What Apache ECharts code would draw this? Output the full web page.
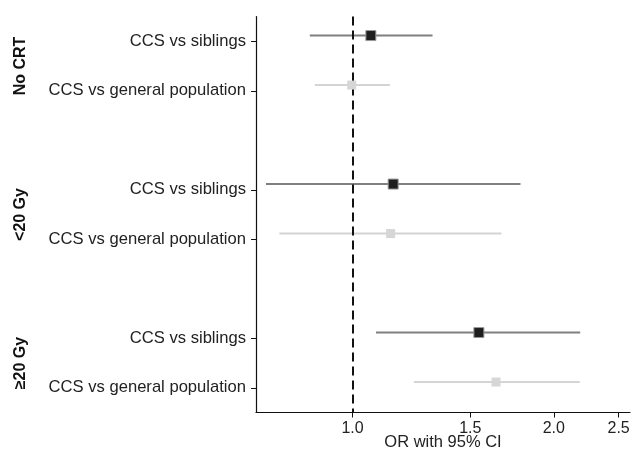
<!DOCTYPE html>
<html>
<head>
<meta charset="utf-8">
<script src="https://cdn.jsdelivr.net/npm/echarts@6/dist/echarts.min.js"></script>
<style>html,body{margin:0;padding:0;background:#fff}#c{width:634px;height:454px}</style>
</head>
<body>
<div id="c"></div>
<script>
// ---- data ----
var groups = ['No CRT', '<20 Gy', '≥20 Gy'];
var rowLabels = ['CCS vs siblings', 'CCS vs general population', '',
                 'CCS vs siblings', 'CCS vs general population', '',
                 'CCS vs siblings', 'CCS vs general population'];
var rowKeys = ['r0', 'r1', 'g1', 'r3', 'r4', 'g2', 'r6', 'r7'];
var siblingsRows = ['r0', 'r3', 'r6'];
var genpopRows = ['r1', 'r4', 'r7'];
var siblingsOR = [1.065, 1.150, 1.545];
var siblingsLow = [0.863, 0.742, 1.084];
var siblingsHigh = [1.317, 1.783, 2.190];
var genpopOR = [0.997, 1.140, 1.639];
var genpopLow = [0.878, 0.777, 1.235];
var genpopHigh = [1.137, 1.670, 2.187];
var xTicks = [1.0, 1.5, 2.0, 2.5];
var groupTickPos = [0.5, 3.5, 6.5];
var refLine = 1.0;

var chart = echarts.init(document.getElementById('c'), null, {renderer: 'canvas'});

function ciData(rows, lo, hi, or) {
  return rows.map(function (r, i) { return [lo[i], hi[i], r, or[i]]; });
}
function ciRender(color) {
  return function (params, api) {
    var y = api.value(2);
    var p1 = api.coord([api.value(0), y]);
    var p2 = api.coord([api.value(1), y]);
    return {
      type: 'line',
      shape: {x1: p1[0], y1: p1[1], x2: p2[0], y2: p2[1]},
      style: {stroke: color, lineWidth: 2}
    };
  };
}

var XMIN = 0.717, XMAX = 2.6;
var font = 'Liberation Sans, Arial, Helvetica, sans-serif';

var option = {
  animation: false,
  grid: [
    {left: 256, right: 4, top: 16.5, height: 396, containLabel: false, outerBoundsMode: 'none'},
    {left: 256, right: 4, top: 10.8, height: 396, containLabel: false, outerBoundsMode: 'none'}
  ],
  xAxis: [
    {
      gridIndex: 0, type: 'log', logBase: 10, min: XMIN, max: XMAX,
      name: 'OR with 95% CI', nameLocation: 'middle', nameGap: 30, nameMoveOverlap: false,
      nameTextStyle: {fontSize: 16.5, color: '#222', fontFamily: font, verticalAlign: 'middle'},
      axisLine: {show: true, onZero: false, lineStyle: {color: '#111', width: 1.2}},
      axisTick: {show: true, length: 5, lineStyle: {color: '#111'}, customValues: xTicks},
      axisLabel: {fontSize: 16, color: '#222', fontFamily: font, margin: 8, customValues: xTicks,
        formatter: function (v) { return Number(v).toFixed(1); }},
      splitLine: {show: false}, minorTick: {show: false}
    },
    {
      gridIndex: 1, type: 'log', logBase: 10, min: XMIN, max: XMAX, show: false,
      axisLine: {onZero: false}, splitLine: {show: false}
    }
  ],
  yAxis: [
    {
      gridIndex: 0, type: 'category', data: rowLabels, inverse: true, boundaryGap: true,
      axisLine: {show: true, onZero: false, lineStyle: {color: '#111', width: 1.2}},
      axisTick: {show: true, length: 5, alignWithLabel: true, lineStyle: {color: '#111'},
        interval: function (i, v) { return v !== ''; }},
      axisLabel: {fontSize: 16.6, color: '#222', fontFamily: font, margin: 10, interval: 0},
      splitLine: {show: false}
    },
    {
      gridIndex: 0, type: 'value', min: -0.5, max: 7.5, inverse: true, position: 'left', offset: 235,
      axisLine: {show: false, onZero: false}, axisTick: {show: false}, splitLine: {show: false},
      axisLabel: {
        customValues: groupTickPos, rotate: 90, margin: 0, align: 'center', verticalAlign: 'middle',
        fontSize: 16, fontWeight: 'bold', color: '#111', fontFamily: font,
        formatter: function (v) { return groups[groupTickPos.indexOf(v)]; }
      }
    },
    {
      gridIndex: 1, type: 'category', data: rowKeys, inverse: true, boundaryGap: true, show: false
    }
  ],
  series: [
    {
      type: 'custom', xAxisIndex: 1, yAxisIndex: 2,
      renderItem: ciRender('#7f7f7f'),
      encode: {x: [0, 1], y: 2},
      data: ciData(siblingsRows, siblingsLow, siblingsHigh, siblingsOR), z: 2
    },
    {
      type: 'custom', xAxisIndex: 1, yAxisIndex: 2,
      renderItem: ciRender('#d4d4d4'),
      encode: {x: [0, 1], y: 2},
      data: ciData(genpopRows, genpopLow, genpopHigh, genpopOR), z: 2
    },
    {
      type: 'scatter', xAxisIndex: 0, yAxisIndex: 0, data: [], silent: true,
      markLine: {
        silent: true, symbol: 'none', label: {show: false},
        lineStyle: {type: [9, 5], color: '#111', width: 2},
        data: [{xAxis: refLine}]
      }, z: 1
    },
    {
      type: 'scatter', xAxisIndex: 1, yAxisIndex: 2, symbol: 'rect', symbolSize: 10,
      itemStyle: {color: '#1e1e1e', borderColor: '#9a9a9a', borderWidth: 1, opacity: 1},
      data: siblingsRows.map(function (r, i) { return [siblingsOR[i], r]; }), z: 5
    },
    {
      type: 'scatter', xAxisIndex: 1, yAxisIndex: 2, symbol: 'rect', symbolSize: 9,
      itemStyle: {color: '#d6d6d6', opacity: 1},
      data: genpopRows.map(function (r, i) { return [genpopOR[i], r]; }), z: 5
    }
  ]
};
chart.setOption(option);
</script>
</body>
</html>
